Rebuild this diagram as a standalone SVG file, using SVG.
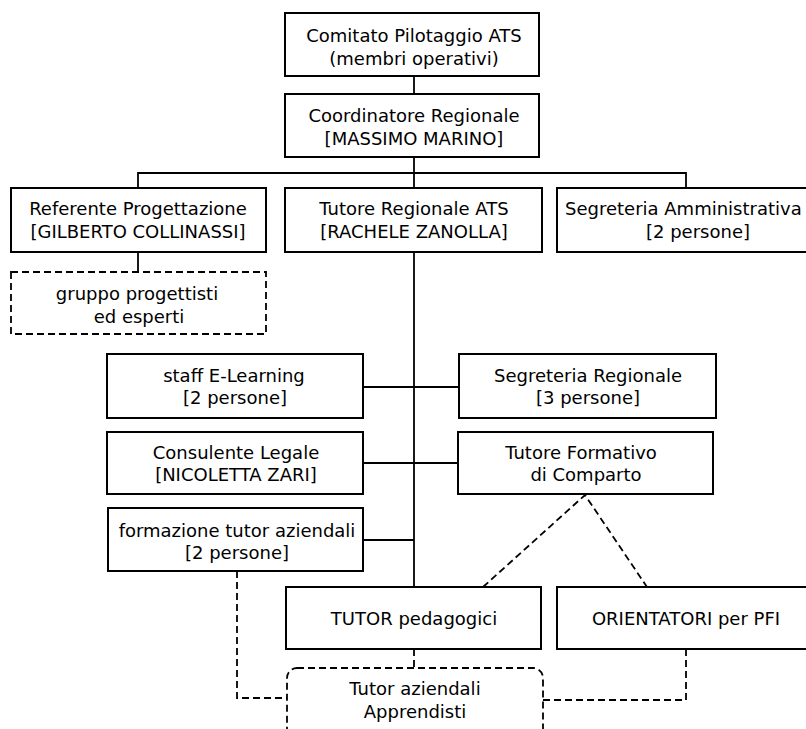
<svg xmlns="http://www.w3.org/2000/svg" width="806" height="729" viewBox="0 0 806 729">
<style>
.box{fill:#fff;stroke:#000;stroke-width:2}
.dbox{fill:#fff;stroke:#000;stroke-width:1.8;stroke-dasharray:7 4}
.ln{fill:none;stroke:#000;stroke-width:1.8}
.dl{fill:none;stroke:#000;stroke-width:1.8;stroke-dasharray:7 4}
text{font-family:"DejaVu Sans",Verdana,sans-serif;font-size:18px;fill:#000;text-anchor:middle}
</style>
<rect width="806" height="729" fill="#fff"/>
<g id="connectors">
<line class="ln" x1="414" y1="76" x2="414" y2="94"/>
<line class="ln" x1="414" y1="157" x2="414" y2="188"/>
<polyline class="ln" points="138,188 138,173 686,173 686,188"/>
<line class="ln" x1="138" y1="252" x2="138" y2="272"/>
<line class="ln" x1="414" y1="252" x2="414" y2="587"/>
<line class="ln" x1="363" y1="387" x2="459" y2="387"/>
<line class="ln" x1="363" y1="463" x2="458" y2="463"/>
<line class="ln" x1="363" y1="540" x2="414" y2="540"/>
<polyline class="dl" points="483,587 585,495 647,587"/>
<line class="dl" x1="414" y1="649" x2="414" y2="668"/>
<polyline class="dl" points="237,571 237,698 287,698"/>
<polyline class="dl" points="686,649 686,700 543,700"/>
</g>
<g id="comitato">
<rect class="box" x="285" y="13" width="254" height="63"/>
<text x="414" y="42">Comitato Pilotaggio ATS</text>
<text x="414" y="65">(membri operativi)</text>
</g>
<g id="coordinatore">
<rect class="box" x="285" y="94" width="254" height="63"/>
<text x="414" y="122">Coordinatore Regionale</text>
<text x="414" y="145">[MASSIMO MARINO]</text>
</g>
<g id="referente">
<rect class="box" x="11" y="188" width="255" height="64"/>
<text x="138" y="215">Referente Progettazione</text>
<text x="138" y="238">[GILBERTO COLLINASSI]</text>
</g>
<g id="tutore-regionale">
<rect class="box" x="285" y="188" width="257" height="64"/>
<text x="414" y="215">Tutore Regionale ATS</text>
<text x="414" y="238">[RACHELE ZANOLLA]</text>
</g>
<g id="segreteria-amministrativa">
<rect class="box" x="557" y="188" width="280" height="64"/>
<text x="565" y="215" style="text-anchor:start">Segreteria Amministrativa</text>
<text x="698" y="238">[2 persone]</text>
</g>
<g id="gruppo-progettisti">
<rect class="dbox" x="11" y="272" width="255" height="62"/>
<text x="137" y="300">gruppo progettisti</text>
<text x="139" y="323">ed esperti</text>
</g>
<g id="staff-elearning">
<rect class="box" x="107" y="354" width="256" height="64"/>
<text x="234" y="382">staff E-Learning</text>
<text x="235" y="404">[2 persone]</text>
</g>
<g id="segreteria-regionale">
<rect class="box" x="459" y="354" width="257" height="64"/>
<text x="588" y="382">Segreteria Regionale</text>
<text x="588" y="404">[3 persone]</text>
</g>
<g id="consulente-legale">
<rect class="box" x="107" y="432" width="256" height="62"/>
<text x="236" y="459">Consulente Legale</text>
<text x="236" y="481">[NICOLETTA ZARI]</text>
</g>
<g id="tutore-formativo">
<rect class="box" x="458" y="432" width="255" height="62"/>
<text x="581" y="459">Tutore Formativo</text>
<text x="586" y="481">di Comparto</text>
</g>
<g id="formazione-tutor">
<rect class="box" x="108" y="508" width="255" height="63"/>
<text x="237" y="537">formazione tutor aziendali</text>
<text x="237" y="559">[2 persone]</text>
</g>
<g id="tutor-pedagogici">
<rect class="box" x="286" y="587" width="255" height="62"/>
<text x="414" y="625">TUTOR pedagogici</text>
</g>
<g id="orientatori">
<rect class="box" x="557" y="587" width="270" height="62"/>
<text x="686" y="625">ORIENTATORI per PFI</text>
</g>
<g id="tutor-aziendali">
<rect class="dbox" x="287" y="668" width="256" height="80" rx="10" ry="10"/>
<text x="415" y="695">Tutor aziendali</text>
<text x="415" y="718">Apprendisti</text>
</g>
</svg>
